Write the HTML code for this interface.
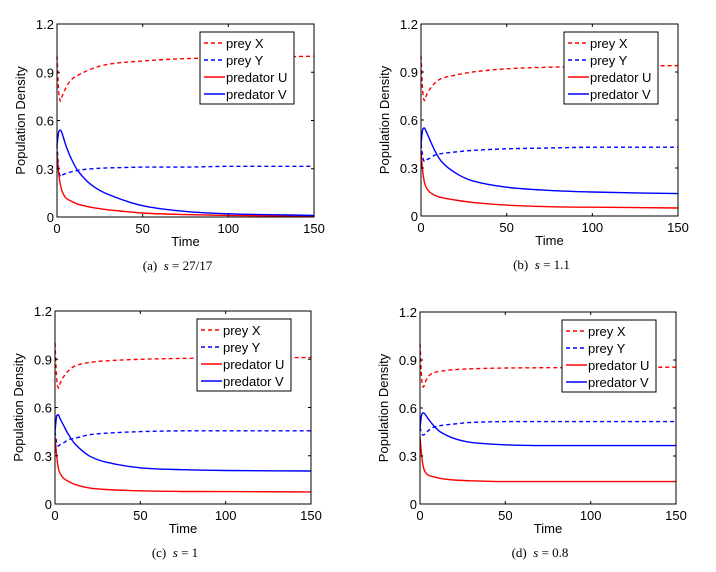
<!DOCTYPE html>
<html><head><meta charset="utf-8"><style>
html,body{margin:0;padding:0;background:#fff;}
svg{display:block;}
</style></head><body>
<svg id="fig" width="716" height="572" xmlns="http://www.w3.org/2000/svg" font-family="Liberation Sans, sans-serif"></svg>
<script>
const times = [0,1,2,3,5,8,12,20,30,50,75,100,150];
const xTicks = [0,50,100,150];
const yTicks = [0,0.3,0.6,0.9,1.2];
const yTickLabels = ["0","0.3","0.6","0.9","1.2"];
const seriesNames = ["prey X","prey Y","predator U","predator V"];
const captions = [["(a)","27/17"],["(b)","1.1"],["(c)","1"],["(d)","0.8"]];
const aPreyX = [1.0,0.78,0.72,0.75,0.8,0.85,0.88,0.92,0.95,0.97,0.985,0.99,1.0];
const aPreyY = [0.45,0.3,0.25,0.26,0.27,0.28,0.29,0.30,0.305,0.31,0.31,0.315,0.315];
const aPredU = [0.4,0.27,0.2,0.16,0.12,0.1,0.08,0.06,0.045,0.025,0.015,0.01,0.005];
const aPredV = [0.45,0.53,0.54,0.52,0.45,0.37,0.29,0.2,0.14,0.07,0.035,0.02,0.01];
const bPreyX = [1.0,0.78,0.72,0.75,0.79,0.83,0.86,0.88,0.9,0.92,0.93,0.935,0.94];
const bPreyY = [0.45,0.37,0.34,0.35,0.36,0.38,0.39,0.40,0.41,0.42,0.425,0.43,0.43];
const bPredU = [0.4,0.28,0.21,0.18,0.15,0.13,0.115,0.1,0.085,0.068,0.058,0.055,0.05];
const bPredV = [0.45,0.54,0.55,0.53,0.48,0.41,0.34,0.27,0.22,0.18,0.16,0.15,0.14];
const cPreyX = [1.0,0.78,0.72,0.75,0.79,0.83,0.86,0.88,0.89,0.90,0.905,0.91,0.91];
const cPreyY = [0.45,0.38,0.36,0.37,0.38,0.40,0.41,0.43,0.44,0.45,0.455,0.455,0.455];
const cPredU = [0.42,0.3,0.22,0.19,0.16,0.14,0.12,0.1,0.09,0.082,0.078,0.077,0.075];
const cPredV = [0.45,0.55,0.555,0.53,0.49,0.43,0.37,0.3,0.26,0.225,0.213,0.208,0.205];
const dPreyX = [1.0,0.78,0.73,0.76,0.8,0.82,0.83,0.84,0.845,0.85,0.852,0.853,0.855];
const dPreyY = [0.48,0.44,0.43,0.44,0.46,0.48,0.49,0.5,0.51,0.515,0.515,0.515,0.515];
const dPredU = [0.42,0.3,0.23,0.2,0.18,0.17,0.16,0.15,0.145,0.14,0.14,0.14,0.14];
const dPredV = [0.48,0.56,0.57,0.56,0.53,0.49,0.45,0.41,0.385,0.37,0.365,0.365,0.365];

const panelData = [[aPreyX,aPreyY,aPredU,aPredV],[bPreyX,bPreyY,bPredU,bPredV],[cPreyX,cPreyY,cPredU,cPredV],[dPreyX,dPreyY,dPredU,dPredV]];
const boxes = [{l:57,r:314,t:24,b:217},{l:421,r:678,t:24,b:216},{l:55,r:311,t:311,b:504},{l:420,r:676,t:312,b:504}];
const styles = [{c:"#ff0000",d:"4,3"},{c:"#0000ff",d:"4,3"},{c:"#ff0000",d:""},{c:"#0000ff",d:""}];
const NS="http://www.w3.org/2000/svg";
const svg=document.getElementById('fig');
function mk(tag,attrs,parent){const e=document.createElementNS(NS,tag);for(const k in attrs)e.setAttribute(k,attrs[k]);(parent||svg).appendChild(e);return e;}
function smooth(P){
  // monotone-ish Catmull-Rom in x
  let d='M'+P[0][0].toFixed(1)+','+P[0][1].toFixed(1);
  for(let i=0;i<P.length-1;i++){
    const p0=P[Math.max(0,i-1)],p1=P[i],p2=P[i+1],p3=P[Math.min(P.length-1,i+2)];
    const dx=p2[0]-p1[0];
    const m1=(p2[1]-p0[1])/(p2[0]-p0[0]||1), m2=(p3[1]-p1[1])/(p3[0]-p1[0]||1);
    const s1=(p2[1]-p1[1])/dx;
    const a=(s1===0||m1*s1<=0)?0:Math.min(Math.abs(m1),3*Math.abs(s1))*Math.sign(m1);
    const b=(s1===0||m2*s1<=0)?0:Math.min(Math.abs(m2),3*Math.abs(s1))*Math.sign(m2);
    d+=' C'+(p1[0]+dx/3).toFixed(1)+','+(p1[1]+a*dx/3).toFixed(1)+' '+(p2[0]-dx/3).toFixed(1)+','+(p2[1]-b*dx/3).toFixed(1)+' '+p2[0].toFixed(1)+','+p2[1].toFixed(1);
  }
  return d;
}
const letters=['a','b','c','d'];
panelData.forEach((series,p)=>{
  const B=boxes[p];
  const g=mk('g',{});
  
  
  const xs=v=>B.l+(v-0)/150*(B.r-B.l);
  const ys=v=>B.b-(v-0)/1.2*(B.b-B.t);
  series.forEach((vals,i)=>{
    const P=times.map((t,k)=>[xs(t),ys(vals[k])]);
    const pl=mk('path',{d:smooth(P),fill:'none',stroke:styles[i].c,'stroke-width':1.4,'stroke-dasharray':styles[i].d},g);
    
    
  });
  const fr=mk('rect',{x:B.l,y:B.t,width:B.r-B.l,height:B.b-B.t,fill:'none',stroke:'#000','stroke-width':1},g);
  
  
  xTicks.forEach(v=>{
    const x=xs(v);
    mk('line',{x1:x,y1:B.b,x2:x,y2:B.b-3,stroke:'#000'},g);
    mk('line',{x1:x,y1:B.t,x2:x,y2:B.t+3,stroke:'#000'},g);
    const tx=mk('text',{x:x,y:B.b+16,'font-size':13,'text-anchor':'middle'},g);
    tx.textContent=v;
    
    
  });
  yTicks.forEach((v,k)=>{
    const y=ys(v);
    mk('line',{x1:B.l,y1:y,x2:B.l+3,y2:y,stroke:'#000'},g);
    mk('line',{x1:B.r,y1:y,x2:B.r-3,y2:y,stroke:'#000'},g);
    const tx=mk('text',{x:B.l-3,y:y+5,'font-size':13,'text-anchor':'end'},g);
    tx.textContent=yTickLabels[k];
    
    
  });
  const xt=mk('text',{x:(B.l+B.r)/2,y:B.b+29,'font-size':13,'text-anchor':'middle'},g);
  xt.textContent='Time';
  
  
  const ym=(B.t+B.b)/2, yx=B.l-32;
  const yt=mk('text',{x:yx,y:ym,'font-size':13,'text-anchor':'middle',transform:`rotate(-90 ${yx} ${ym})`},g);
  yt.textContent='Population Density';
  
  
  const lx=B.r-114, ly=B.t+8;
  const lg=mk('g',{},g);
  
  
  mk('rect',{x:lx,y:ly,width:94,height:72,fill:'#fff',stroke:'#000','stroke-width':1},lg);
  seriesNames.forEach((n,i)=>{
    const yy=ly+11+i*17;
    mk('line',{x1:lx+4,y1:yy,x2:lx+25,y2:yy,stroke:styles[i].c,'stroke-width':1.4,'stroke-dasharray':styles[i].d},lg);
    const t=mk('text',{x:lx+26,y:yy+5,'font-size':13},lg);
    t.textContent=n;
    
    
  });
  const cap=mk('text',{x:(B.l+B.r)/2-8,y:B.b+53,'font-size':13,'font-family':'Liberation Serif, serif','text-anchor':'middle'},g);
  
  
  const s1=mk('tspan',{},cap); s1.textContent=captions[p][0]+'\u00a0\u00a0';
  const s2=mk('tspan',{'font-style':'italic'},cap); s2.textContent='s';
  const s3=mk('tspan',{},cap); s3.textContent=' = '+captions[p][1];
});
</script>
</body></html>
